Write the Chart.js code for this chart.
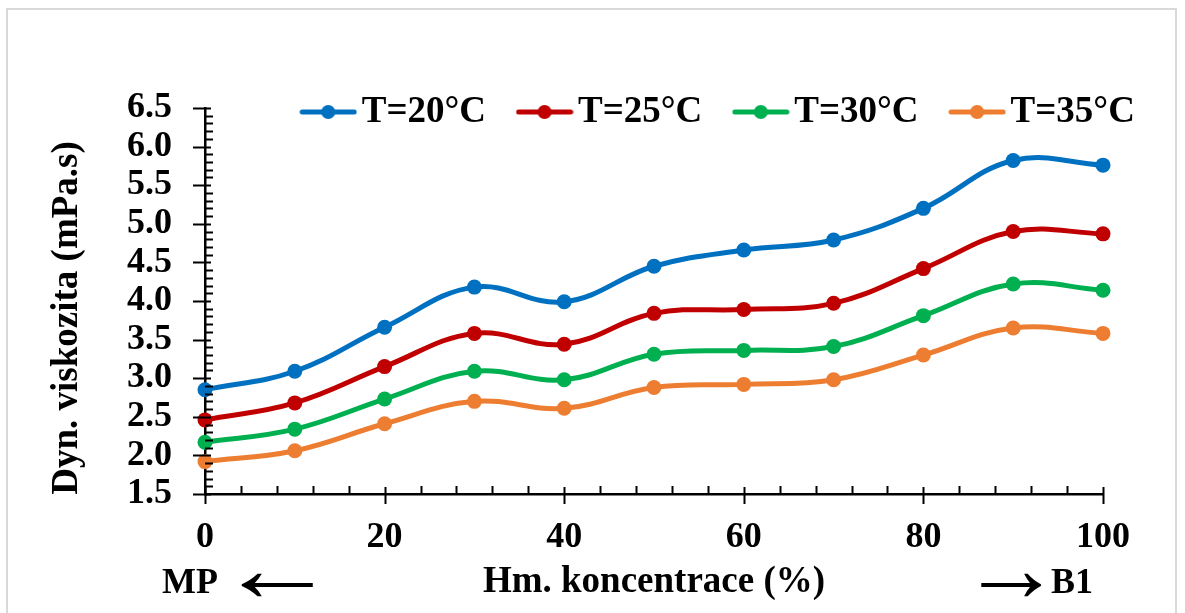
<!DOCTYPE html>
<html>
<head>
<meta charset="utf-8">
<script src="https://cdn.jsdelivr.net/npm/chart.js@4/dist/chart.umd.min.js"></script>
<style>
	html, body { margin: 0; padding: 0; background: #fff; }
	#wrap { width: 1185px; height: 613px; }
</style>
</head>
<body>
<div id="wrap"><canvas id="mycanvas" width="1185" height="613"></canvas></div>
<script>
var concentration = [0, 10, 20, 30, 40, 50, 60, 70, 80, 90, 100];
var t20 = [2.85, 3.09, 3.66, 4.18, 3.99, 4.45, 4.66, 4.79, 5.20, 5.82, 5.76];
var t25 = [2.46, 2.68, 3.15, 3.58, 3.44, 3.84, 3.89, 3.97, 4.42, 4.90, 4.87];
var t30 = [2.17, 2.34, 2.73, 3.09, 2.98, 3.31, 3.36, 3.41, 3.81, 4.22, 4.14];
var t35 = [1.92, 2.06, 2.41, 2.70, 2.61, 2.88, 2.92, 2.98, 3.30, 3.65, 3.58];
var seriesNames = ['T=20°C', 'T=25°C', 'T=30°C', 'T=35°C'];
var seriesColors = ['#0070C0', '#C00000', '#00B050', '#ED7D31'];

var FONT = "'Liberation Serif', 'Times New Roman', serif";

// legend symbol: short line with a dot in the middle
function legendSymbol(color) {
	var c = document.createElement('canvas');
	c.width = 58;
	c.height = 16;
	var g = c.getContext('2d');
	g.strokeStyle = color;
	g.lineWidth = 5;
	g.lineCap = 'round';
	g.beginPath();
	g.moveTo(3, 8);
	g.lineTo(55, 8);
	g.stroke();
	g.fillStyle = color;
	g.beginPath();
	g.arc(29, 8, 7, 0, Math.PI * 2);
	g.fill();
	return c;
}

function points(values) {
	var out = [];
	for (var i in concentration) {
		out.push({x: concentration[i], y: values[i]});
	}
	return out;
}

var allSeries = [t20, t25, t30, t35];
var datasets = [];
for (var i in allSeries) {
	datasets.push({
		label: seriesNames[i],
		data: points(allSeries[i]),
		borderColor: seriesColors[i],
		backgroundColor: seriesColors[i],
		borderWidth: 5,
		pointRadius: 7.5,
		pointBorderWidth: 0,
		pointStyle: 'circle',
		tension: 0.4,
		clip: false
	});
}

var extras = {
	id: 'extras',
	beforeUpdate: function(chart) {
		var lg = chart.legend;
		if (lg && !lg._flat) {
			var fit = lg.fit;
			lg.fit = function() {
				fit.call(this);
				this.height = 0;
			};
			lg._flat = true;
		}
	},
	beforeDraw: function(chart) {
		var ctx = chart.ctx;
		ctx.save();
		ctx.fillStyle = '#fff';
		ctx.fillRect(0, 0, chart.width, chart.height);
		ctx.strokeStyle = '#d9d9d9';
		ctx.lineWidth = 2;
		ctx.strokeRect(7, 9, 1169, 640);
		ctx.restore();
	},
	afterLayout: function(chart) {
		// legend sits over the top of the plot, like the original
		var lg = chart.legend;
		lg.left = 190;
		lg.right = 1250 + (lg.lineWidths ? lg.lineWidths[0] - 857 : 0);
		lg.width = lg.right - lg.left;
		lg.top = 50;
		lg.bottom = 170;
		lg.height = lg.bottom - lg.top;
	},
	afterDraw: function(chart) {
		var ctx = chart.ctx;
		var xs = chart.scales.x, ys = chart.scales.y;
		var a = chart.chartArea;
		ctx.save();
		ctx.strokeStyle = '#000';
		ctx.lineWidth = 2;
		ctx.beginPath();
		// y ticks
		for (var k = 15; k <= 65; k++) {
			var py = Math.round(ys.getPixelForValue(k / 10)) + 0.5;
			if (k % 5 === 0) {
				ctx.moveTo(a.left - 12, py);
				ctx.lineTo(a.left + 6, py);
			} else {
				ctx.moveTo(a.left, py);
				ctx.lineTo(a.left + 8, py);
			}
		}
		// x ticks
		for (var v = 0; v <= 100; v += 4) {
			var px = Math.round(xs.getPixelForValue(v)) + 0.5;
			if (v % 20 === 0) {
				ctx.moveTo(px, a.bottom - 7);
				ctx.lineTo(px, a.bottom + 10);
			} else {
				ctx.moveTo(px, a.bottom);
				ctx.lineTo(px, a.bottom - 8);
			}
		}
		ctx.stroke();

		// y axis title
		ctx.fillStyle = '#000';
		ctx.font = 'bold 37px ' + FONT;
		ctx.textAlign = 'center';
		ctx.textBaseline = 'middle';
		ctx.translate(67, 318);
		ctx.rotate(-Math.PI / 2);
		ctx.fillText('Dyn. viskozita (mPa.s)', 0, 0);
		ctx.restore();

		// MP / B1 ends
		ctx.save();
		ctx.fillStyle = '#000';
		ctx.textBaseline = 'middle';
		ctx.font = 'bold 36px ' + FONT;
		ctx.textAlign = 'left';
		ctx.fillText('MP', 162, 584);
		ctx.fillText('B1', 1051, 584);
		ctx.font = '96px ' + FONT;
		ctx.textAlign = 'center';
		ctx.save();
		ctx.translate(277, 576);
		ctx.scale(1.25, 1);
		ctx.fillText('\u2190', 0, 0);
		ctx.restore();
		ctx.save();
		ctx.translate(1011, 576);
		ctx.scale(1.05, 1);
		ctx.fillText('\u2192', 0, 0);
		ctx.restore();
		ctx.restore();
	}
};

var ctx = document.getElementById('mycanvas');

var lineGraph = new Chart(ctx, {
	type: 'line',
	data: { datasets: datasets },
	options: {
		responsive: false,
		animation: false,
		devicePixelRatio: 1,
		layout: { padding: { left: 0, right: 82, top: 108, bottom: 0 } },
		plugins: {
			tooltip: { enabled: false },
			legend: {
				position: 'top',
				align: 'center',
				labels: {
					color: '#000',
					font: { family: FONT, size: 37, weight: 'bold' },
					usePointStyle: true,
					pointStyleWidth: 30,
					boxHeight: 16,
					padding: 43.5,
					generateLabels: function(chart) {
						return chart.data.datasets.map(function(ds, i) {
							return {
								text: ds.label,
								pointStyle: legendSymbol(seriesColors[i]),
								fillStyle: seriesColors[i],
								strokeStyle: seriesColors[i],
								lineWidth: 0,
								fontColor: '#000',
								datasetIndex: i
							};
						});
					}
				}
			}
		},
		scales: {
			x: {
				type: 'linear',
				min: 0,
				max: 100,
				afterFit: function(scale) { scale.height = 613 - 494; },
				border: { display: true, color: '#000', width: 2.5 },
				grid: { display: false, drawTicks: false },
				ticks: {
					stepSize: 20,
					autoSkip: false,
					color: '#000',
					padding: 22,
					maxRotation: 0,
					font: { family: FONT, size: 36, weight: 'bold' }
				},
				title: {
					display: true,
					text: 'Hm. koncentrace (%)',
					color: '#000',
					padding: { top: 0, bottom: 8 },
					font: { family: FONT, size: 37, weight: 'bold' }
				}
			},
			y: {
				min: 1.5,
				max: 6.5,
				afterFit: function(scale) { scale.width = 205; },
				border: { display: true, color: '#000', width: 2.5 },
				grid: { display: false, drawTicks: false },
				ticks: {
					stepSize: 0.5,
					autoSkip: false,
					color: '#000',
					padding: 33,
					callback: function(value) { return value.toFixed(1); },
					font: { family: FONT, size: 36, weight: 'bold' }
				}
			}
		}
	},
	plugins: [extras]
});
</script>
</body>
</html>
